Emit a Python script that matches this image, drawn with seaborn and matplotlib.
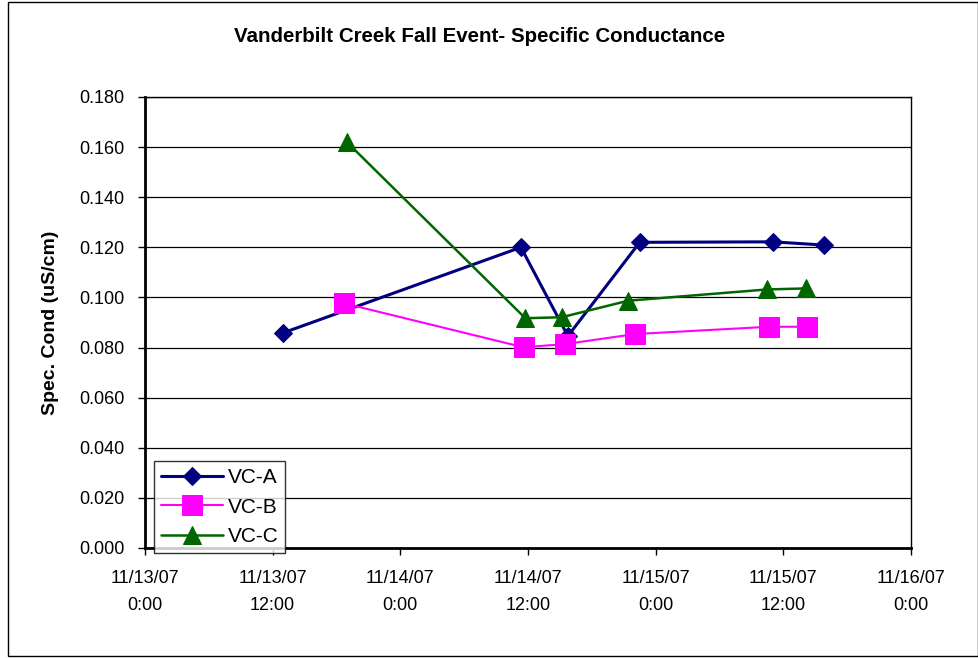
import matplotlib
matplotlib.use("Agg")
import matplotlib.pyplot as plt
import matplotlib.dates as mdates
from matplotlib.ticker import FuncFormatter, MultipleLocator
from matplotlib.patches import Rectangle
import seaborn as sns
import pandas as pd

# ---- data ----
series_names = ["VC-A", "VC-B", "VC-C"]
times_a = ["2007-11-13 13:00", "2007-11-14 11:20", "2007-11-14 15:45",
           "2007-11-14 22:30", "2007-11-15 11:00", "2007-11-15 15:50"]
vals_a = [0.0859, 0.1200, 0.0846, 0.1220, 0.1222, 0.1209]
times_b = ["2007-11-13 18:40", "2007-11-14 11:35", "2007-11-14 15:30",
           "2007-11-14 22:05", "2007-11-15 10:40", "2007-11-15 14:15"]
vals_b = [0.0977, 0.0801, 0.0814, 0.0854, 0.0883, 0.0883]
times_c = ["2007-11-13 19:00", "2007-11-14 11:45", "2007-11-14 15:10",
           "2007-11-14 21:25", "2007-11-15 10:30", "2007-11-15 14:10"]
vals_c = [0.1619, 0.0917, 0.0921, 0.0987, 0.1032, 0.1036]

title = "Vanderbilt Creek Fall Event- Specific Conductance"
ylabel = "Spec. Cond (uS/cm)"

frames = []
for name, t, v in zip(series_names, [times_a, times_b, times_c], [vals_a, vals_b, vals_c]):
    frames.append(pd.DataFrame({"time": pd.to_datetime(t), "value": v, "site": name}))
df = pd.concat(frames, ignore_index=True)

styles = {
    "VC-A": dict(color="#000080", marker="D", markersize=9.5, linewidth=2.2),
    "VC-B": dict(color="#FF00FF", marker="s", markersize=14.5, linewidth=1.5),
    "VC-C": dict(color="#006600", marker="^", markersize=12.5, linewidth=1.8),
}

sns.set_style("white")
plt.rcParams["font.family"] = ["Liberation Sans", "DejaVu Sans"]
plt.rcParams["text.color"] = "black"
plt.rcParams["axes.labelcolor"] = "black"

fig = plt.figure(figsize=(9.79, 6.58), dpi=100)
ax = fig.add_axes([145/979, 1-548/658, (911-145)/979, (548-97)/658])

for name in series_names:
    st = styles[name]
    sns.lineplot(data=df[df["site"] == name], x="time", y="value", ax=ax,
                 color=st["color"], marker=st["marker"], markersize=st["markersize"],
                 linewidth=st["linewidth"], markeredgecolor=st["color"],
                 label=name, zorder=3)

ax.set_xlim(pd.Timestamp("2007-11-13 00:00"), pd.Timestamp("2007-11-16 00:00"))
ax.set_ylim(0, 0.18)
ax.yaxis.set_major_locator(MultipleLocator(0.02))
ax.yaxis.set_major_formatter(FuncFormatter(lambda v, p: f"{v:.3f}"))
ax.xaxis.set_major_locator(mdates.HourLocator(byhour=[0, 12]))

def xfmt(v, p):
    d = mdates.num2date(v)
    return f"{d.month}/{d.day}/{d:%y}\n{d.hour}:{d:%M}"

ax.xaxis.set_major_formatter(FuncFormatter(xfmt))

ax.grid(axis="y", color="black", linewidth=0.9)
ax.grid(axis="x", visible=False)
ax.set_axisbelow(True)

for side in ["top", "right"]:
    ax.spines[side].set_color("black")
    ax.spines[side].set_linewidth(1.0)
for side in ["left", "bottom"]:
    ax.spines[side].set_color("black")
    ax.spines[side].set_linewidth(2.0)

ax.tick_params(axis="y", direction="out", length=5, width=1, pad=10,
               labelsize=13, left=True, colors="black")
ax.tick_params(axis="x", direction="out", length=5, width=1, pad=11,
               labelsize=13, bottom=True, colors="black")
for lab in ax.get_xticklabels():
    lab.set_linespacing(1.75)

ax.set_xlabel("")
ax.set_ylabel(ylabel, fontsize=14, fontweight="bold", color="black")
ax.yaxis.set_label_coords((59-145)/766, 0.5)

fig.text(480/979, 1-37/658, title, ha="center", va="center",
         fontsize=14.8, fontweight="bold", color="black")

leg = ax.legend(loc="lower left", bbox_to_anchor=((154-145)/766, -0.011),
                fontsize=15, frameon=True, fancybox=False, handlelength=3.0,
                borderpad=0.33, labelspacing=0.5, handletextpad=0.2,
                borderaxespad=0)
leg.get_frame().set_edgecolor("black")
leg.get_frame().set_linewidth(1.0)
leg.set_zorder(5)
for t in leg.get_texts():
    t.set_color("black")

fig.patches.append(Rectangle((8/979, 2/658), 1-9/979, 1-4/658,
                             transform=fig.transFigure, fill=False,
                             edgecolor="black", linewidth=1.0))

fig.savefig("out.png", dpi=100)
